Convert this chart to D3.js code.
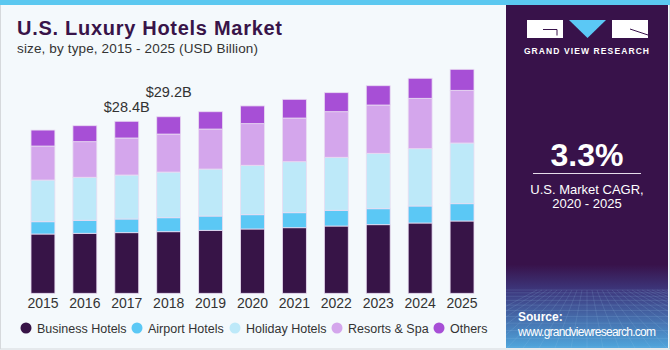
<!DOCTYPE html>
<html>
<head>
<meta charset="utf-8">
<script src="https://cdn.jsdelivr.net/npm/d3@7"></script>
<style>
  body { margin: 0; background: #fff; }
  svg { display: block; font-family: "Liberation Sans", Arial, sans-serif; }
</style>
</head>
<body>
<svg></svg>
<script>
const w = 670
const h = 350

// data (USD Billion)
const years = ['2015','2016','2017','2018','2019','2020','2021','2022','2023','2024','2025']
const seriesNames = ['Business Hotels', 'Airport Hotels', 'Holiday Hotels', 'Resorts & Spa', 'Others']
const business = [9.80, 9.92, 10.02, 10.18, 10.41, 10.63, 10.84, 11.12, 11.34, 11.62, 11.95]
const airport  = [2.03, 2.15, 2.26, 2.31, 2.36, 2.36, 2.48, 2.60, 2.64, 2.81, 2.86]
const holiday  = [6.89, 7.11, 7.27, 7.55, 7.77, 8.17, 8.43, 8.76, 9.16, 9.47, 10.03]
const resorts  = [5.62, 5.88, 6.12, 6.28, 6.61, 6.88, 7.22, 7.54, 7.98, 8.33, 8.71]
const others   = [2.64, 2.64, 2.76, 2.86, 2.86, 2.93, 3.09, 3.14, 3.19, 3.31, 3.47]
const callouts = [{year: '2017', text: '$28.4B', dy: 9}, {year: '2018', text: '$29.2B', dy: 20}]

const colors = ['#371447', '#5bc8f5', '#bde9f9', '#d4a6ec', '#a74fd6']

const svg = d3.select('svg')
  .attr('width', w)
  .attr('height', h);

// backgrounds
svg.append('rect').attr('width', w).attr('height', h).attr('fill', '#f4f9fc')
svg.append('rect').attr('x', 0.5).attr('y', 0.5).attr('width', w - 1).attr('height', h - 1.5)
  .attr('fill', 'none').attr('stroke', '#d6d9dc')

const defs = svg.append('defs')
const grad = defs.append('linearGradient').attr('id', 'panelGrad')
  .attr('x1', 0).attr('y1', 0).attr('x2', 0).attr('y2', 1)
grad.append('stop').attr('offset', '0%').attr('stop-color', '#38124a')
grad.append('stop').attr('offset', '76%').attr('stop-color', '#38124a')
grad.append('stop').attr('offset', '84%').attr('stop-color', '#3d3a80')
grad.append('stop').attr('offset', '100%').attr('stop-color', '#4fa6dc')

// right panel
const panelX = 506, panelW = 162
svg.append('rect').attr('x', panelX).attr('y', 0).attr('width', panelW).attr('height', h - 2)
  .attr('fill', 'url(#panelGrad)')

// faint grid texture in the bottom of the panel
defs.append('clipPath').attr('id', 'panelClip').append('rect')
  .attr('x', panelX).attr('y', 0).attr('width', panelW).attr('height', h - 2)
const gridG = svg.append('g').attr('clip-path', 'url(#panelClip)')
  .attr('stroke', '#9fc8ec').attr('stroke-opacity', 0.22).attr('stroke-width', 0.7)
d3.range(0, 14).forEach(i => {
  const y = 290 + i * i * 0.32 + i * 2.5
  if (y < h - 2) gridG.append('line').attr('x1', panelX).attr('x2', panelX + panelW).attr('y1', y).attr('y2', y)
})
d3.range(-10, 22).forEach(i => {
  const xTop = panelX + 81 + i * 5
  const xBot = panelX + 81 + i * 16
  gridG.append('line').attr('x1', xTop).attr('y1', 290).attr('x2', xBot).attr('y2', h - 2)
})

// top strip
svg.append('rect').attr('x', 0).attr('y', 0).attr('width', w).attr('height', 5).attr('fill', '#5bc8f0')

svg.append('text').attr('x', 587).attr('y', 54).attr('text-anchor', 'middle')
  .attr('fill', '#fff').attr('font-size', 8.5).attr('font-weight', 'bold').attr('letter-spacing', 1.1)
  .text('GRAND VIEW RESEARCH')

// CAGR
svg.append('text').attr('x', 587).attr('y', 166).attr('text-anchor', 'middle')
  .attr('fill', '#fff').attr('font-size', 32).attr('font-weight', 'bold').text('3.3%')
svg.append('line').attr('x1', 533).attr('x2', 641).attr('y1', 173.5).attr('y2', 173.5)
  .attr('stroke', '#e6dcea').attr('stroke-width', 1.2)
svg.append('text').attr('x', 587).attr('y', 194).attr('text-anchor', 'middle')
  .attr('fill', '#fff').attr('font-size', 13).text('U.S. Market CAGR,')
svg.append('text').attr('x', 587).attr('y', 208).attr('text-anchor', 'middle')
  .attr('fill', '#fff').attr('font-size', 13).text('2020 - 2025')

// source
svg.append('text').attr('x', 518).attr('y', 321).attr('fill', '#fff')
  .attr('font-size', 12).attr('font-weight', 'bold').text('Source:')
svg.append('text').attr('x', 518).attr('y', 336).attr('fill', '#fff')
  .attr('font-size', 12).attr('textLength', 138).text('www.grandviewresearch.com')

// title
svg.append('text').attr('x', 17).attr('y', 35).attr('fill', '#381449')
  .attr('font-size', 20).attr('font-weight', 'bold').attr('textLength', 265)
  .text('U.S. Luxury Hotels Market')
svg.append('text').attr('x', 17).attr('y', 53).attr('fill', '#333')
  .attr('font-size', 13.5).attr('textLength', 241)
  .text('size, by type, 2015 - 2025 (USD Billion)')

// chart
const data = years.map((y, i) => ({
  year: y,
  'Business Hotels': business[i],
  'Airport Hotels': airport[i],
  'Holiday Hotels': holiday[i],
  'Resorts & Spa': resorts[i],
  'Others': others[i]
}))
const stacked = d3.stack().keys(seriesNames)(data)

const baseline = 293.3
const xScale = d3.scaleBand()
  .domain(years)
  .range([22, 483])
  .paddingInner(0.43)
  .paddingOuter(0.215)

const yScale = d3.scaleLinear()
  .domain([0, 30])
  .range([baseline, baseline - 30 * 6.05])

const g = svg.append('g')

g.selectAll('g.series').data(stacked)
  .enter().append('g')
    .attr('class', 'series')
    .attr('fill', (d, i) => colors[i])
  .selectAll('rect').data(d => d)
  .enter().append('rect')
    .attr('x', d => xScale(d.data.year))
    .attr('y', d => yScale(d[1]))
    .attr('width', xScale.bandwidth())
    .attr('height', d => yScale(d[0]) - yScale(d[1]))
    .attr('stroke', '#e9dcf2')
    .attr('stroke-width', 0.8)

// x axis
const xAxisG = g.append('g')
  .attr('transform', `translate(0, ${baseline})`)
  .call(d3.axisBottom(xScale).tickSize(0).tickPadding(4.5))
xAxisG.select('.domain').remove()
xAxisG.selectAll('text')
  .attr('font-family', '"Liberation Sans", Arial, sans-serif')
  .attr('font-size', 14)
  .attr('fill', '#333')

// callouts
const totals = years.map((y, i) => business[i] + airport[i] + holiday[i] + resorts[i] + others[i])
g.selectAll('text.callout').data(callouts)
  .enter().append('text')
    .attr('class', 'callout')
    .attr('x', d => xScale(d.year) + xScale.bandwidth() / 2)
    .attr('y', d => yScale(totals[years.indexOf(d.year)]) - d.dy)
    .attr('text-anchor', 'middle')
    .attr('font-size', 14.5)
    .attr('fill', '#333')
    .text(d => d.text)

// legend
const legendX = [26, 137, 235, 337, 439]
const legend = svg.append('g').attr('transform', 'translate(0, 328)')
const items = legend.selectAll('g').data(seriesNames)
  .enter().append('g')
    .attr('transform', (d, i) => `translate(${legendX[i]}, 0)`)
items.append('circle').attr('r', 5.5).attr('fill', (d, i) => colors[i])
items.append('text').attr('x', 11).attr('y', 4.5)
  .attr('font-size', 12.5).attr('fill', '#333').text(d => d)

// logo (drawn last, on top)
const logo = svg.append('g').attr('class', 'logo')
logo.append('path').attr('d', 'M527,20 H563 V38 H527 Z').attr('fill', 'white').attr('stroke', 'none')
logo.append('path').attr('d', 'M543,29.5 H557 V35.5').attr('fill', 'none').attr('stroke', '#38124a').attr('stroke-width', 1)
logo.append('path').attr('d', 'M569,20 H606 L587.5,38 Z').attr('fill', '#5bc8f5').attr('stroke', 'none')
logo.append('path').attr('d', 'M612,20 H648 V38 H612 Z').attr('fill', 'white').attr('stroke', 'none')
logo.append('path').attr('d', 'M630,29 L648,35').attr('fill', 'none').attr('stroke', '#38124a').attr('stroke-width', 1)
</script>
</body>
</html>
